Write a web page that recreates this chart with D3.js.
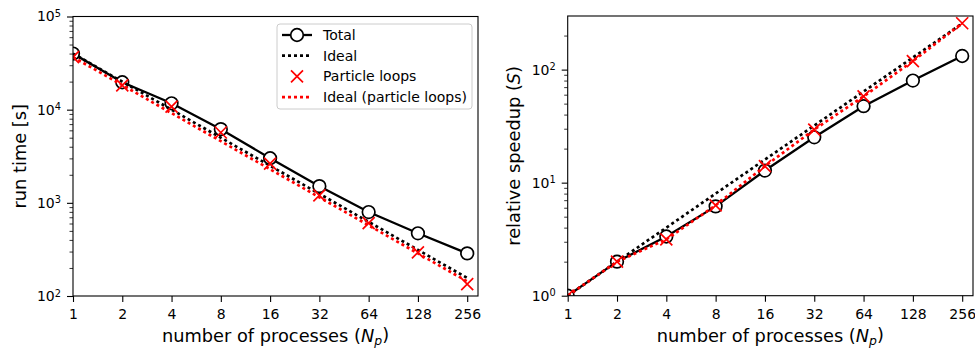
<!DOCTYPE html>
<html>
<head>
<meta charset="utf-8">
<script src="https://cdn.jsdelivr.net/npm/d3@7"></script>
<style>
  body { margin: 0; background: #fff; }
  svg { font-family: "DejaVu Sans", sans-serif; }
</style>
</head>
<body>
<div id="wrapper"></div>
<script>
// data
const processes = [1, 2, 4, 8, 16, 32, 64, 128, 256];
const totalTime = [40000, 19700, 11700, 6180, 3010, 1510, 796, 471, 287];
const particleTime = [36700, 18200, 10800, 5690, 2630, 1205, 605, 294, 134];
const totalSpeedup = [1, 2.0, 3.34, 6.17, 12.8, 25.2, 47.5, 80, 132];
const particleSpeedup = [1, 2.0, 3.15, 6.3, 14, 29.5, 58, 119, 257];
const xTickLabels = ["1", "2", "4", "8", "16", "32", "64", "128", "256"];
const legendLabels = ["Total", "Ideal", "Particle loops", "Ideal (particle loops)"];

const idealTotal = processes.map(n => totalTime[0] / n);
const idealParticle = processes.map(n => particleTime[0] / n);
const idealSpeedup = processes.map(n => n);

const width = 975, height = 349;
const svg = d3.select("#wrapper").append("svg")
    .attr("width", width)
    .attr("height", height);

const tickFont = 14, labelFont = 17.8;

function drawPanel(opts) {
  const x = d3.scaleLog().base(2).domain([1, 298]).range([opts.left, opts.right]);
  const y = d3.scaleLog().domain(opts.yDomain).range([opts.bottom, opts.top]);
  const g = svg.append("g");

  // minor y ticks
  const minors = [];
  const [lo, hi] = opts.yDomain;
  for (let e = Math.floor(Math.log10(lo)); e <= Math.ceil(Math.log10(hi)); e++) {
    for (let m = 2; m <= 9; m++) {
      const v = m * Math.pow(10, e);
      if (v > lo && v < hi) minors.push(v);
    }
  }
  const majors = [];
  for (let e = Math.ceil(Math.log10(lo)); Math.pow(10, e) <= hi; e++) majors.push(Math.pow(10, e));

  g.append("g")
      .attr("transform", `translate(${opts.left},0)`)
      .call(d3.axisLeft(y).tickValues(minors).tickSize(3.5).tickFormat(""))
      .call(a => a.select(".domain").remove())
      .call(a => a.selectAll("line").attr("stroke-width", 0.8));

  const yAxis = g.append("g")
      .attr("transform", `translate(${opts.left},0)`)
      .call(d3.axisLeft(y).tickValues(majors).tickSize(6).tickPadding(6).tickFormat(""))
      .call(a => a.select(".domain").remove())
      .call(a => a.selectAll("line").attr("stroke-width", 1.1));
  yAxis.selectAll(".tick text")
      .attr("font-size", tickFont)
      .attr("fill", "#000")
      .attr("font-family", "DejaVu Sans")
      .each(function(d) {
        const t = d3.select(this);
        t.append("tspan").text("10");
        t.append("tspan").attr("dy", "-0.45em").attr("font-size", "0.7em")
            .text(Math.round(Math.log10(d)));
      });

  const xAxis = g.append("g")
      .attr("transform", `translate(0,${opts.bottom})`)
      .call(d3.axisBottom(x).tickValues(processes).tickSize(6).tickPadding(7)
        .tickFormat((d, i) => xTickLabels[i]))
      .call(a => a.select(".domain").remove())
      .call(a => a.selectAll("line").attr("stroke-width", 1.1));
  xAxis.selectAll(".tick text")
      .attr("font-size", tickFont)
      .attr("fill", "#000")
      .attr("font-family", "DejaVu Sans");

  // data, clipped to the axes box like the markers in the original
  const clip = "clip" + Math.round(opts.left);
  svg.append("clipPath").attr("id", clip).append("rect")
      .attr("x", opts.left).attr("y", opts.top)
      .attr("width", opts.right - opts.left).attr("height", opts.bottom - opts.top);
  const plot = g.append("g").attr("clip-path", `url(#${clip})`);

  const line = d3.line().x((d, i) => x(processes[i])).y(d => y(d));

  plot.append("path").datum(opts.total)
      .attr("d", line).attr("fill", "none").attr("stroke", "#000")
      .attr("stroke-width", 2.3);
  plot.selectAll("circle").data(opts.total).join("circle")
      .attr("cx", (d, i) => x(processes[i]))
      .attr("cy", d => y(d))
      .attr("r", 6.3)
      .attr("fill", "#fff").attr("stroke", "#000").attr("stroke-width", 1.7);
  plot.append("path").datum(opts.blackDotted)
      .attr("d", line).attr("fill", "none").attr("stroke", "#000")
      .attr("stroke-width", 2.7).attr("stroke-dasharray", "3,3");
  plot.selectAll("path.x").data(opts.particle).join("path")
      .attr("class", "x")
      .attr("d", (d, i) => {
        const cx = x(processes[i]), cy = y(d), s = 6;
        return `M${cx - s},${cy - s}L${cx + s},${cy + s}M${cx - s},${cy + s}L${cx + s},${cy - s}`;
      })
      .attr("stroke", "#ff0000").attr("stroke-width", 1.7).attr("fill", "none");
  plot.append("path").datum(opts.redDotted)
      .attr("d", line).attr("fill", "none").attr("stroke", "#ff0000")
      .attr("stroke-width", 2.7).attr("stroke-dasharray", "3,3");

  // frame
  g.append("rect")
      .attr("x", opts.left).attr("y", opts.top)
      .attr("width", opts.right - opts.left).attr("height", opts.bottom - opts.top)
      .attr("fill", "none").attr("stroke", "#000").attr("stroke-width", 1.1);

  // axis labels
  const xl = g.append("text")
      .attr("x", (opts.left + opts.right) / 2).attr("y", 342)
      .attr("text-anchor", "middle").attr("font-size", labelFont);
  xl.append("tspan").text("number of processes (");
  xl.append("tspan").attr("font-style", "italic").text("N");
  xl.append("tspan").attr("font-style", "italic").attr("font-size", "0.7em").attr("dy", "0.25em").text("p");
  xl.append("tspan").attr("dy", "-0.25em").text(")");

  const yl = g.append("text")
      .attr("transform", `translate(${opts.yLabelX},${(opts.top + opts.bottom) / 2}) rotate(-90)`)
      .attr("text-anchor", "middle").attr("font-size", labelFont);
  opts.yLabel.forEach(p => {
    const ts = yl.append("tspan").text(p.text);
    if (p.italic) ts.attr("font-style", "italic");
  });

  return { x, y, g };
}

// left panel: run time
drawPanel({
  left: 73, right: 478, top: 16.5, bottom: 296,
  yDomain: [100, 1e5],
  total: totalTime, particle: particleTime,
  blackDotted: idealTotal, redDotted: idealParticle,
  yLabel: [{ text: "run time [s]" }],
  yLabelX: 26,
});

// right panel: speedup
drawPanel({
  left: 567.7, right: 973, top: 16, bottom: 295.7,
  yDomain: [1, 298],
  total: totalSpeedup, particle: particleSpeedup,
  blackDotted: idealSpeedup, redDotted: particleSpeedup,
  yLabel: [{ text: "relative speedup (" }, { text: "S", italic: true }, { text: ")" }],
  yLabelX: 520,
});

// legend (left panel)
const legend = svg.append("g").attr("transform", "translate(277,24)");
legend.append("rect")
    .attr("width", 195).attr("height", 85).attr("rx", 3)
    .attr("fill", "#fff").attr("fill-opacity", 0.8)
    .attr("stroke", "#cccccc").attr("stroke-width", 1);
legendLabels.forEach((label, i) => {
  const ly = 11 + i * 20.7;
  const row = legend.append("g").attr("transform", `translate(0,${ly})`);
  if (i === 0) {
    row.append("line").attr("x1", 5).attr("x2", 35).attr("stroke", "#000").attr("stroke-width", 2.3);
    row.append("circle").attr("cx", 20).attr("r", 6.3)
        .attr("fill", "#fff").attr("stroke", "#000").attr("stroke-width", 1.7);
  } else if (i === 2) {
    row.append("path").attr("d", "M14,-6L26,6M14,6L26,-6")
        .attr("stroke", "#ff0000").attr("stroke-width", 1.7);
  } else {
    row.append("line").attr("x1", 5).attr("x2", 35)
        .attr("stroke", i === 1 ? "#000" : "#ff0000")
        .attr("stroke-width", 2.7).attr("stroke-dasharray", "3,3");
  }
  row.append("text").attr("x", 46).attr("dy", "0.35em")
      .attr("font-size", tickFont).text(label);
});
</script>
</body>
</html>
